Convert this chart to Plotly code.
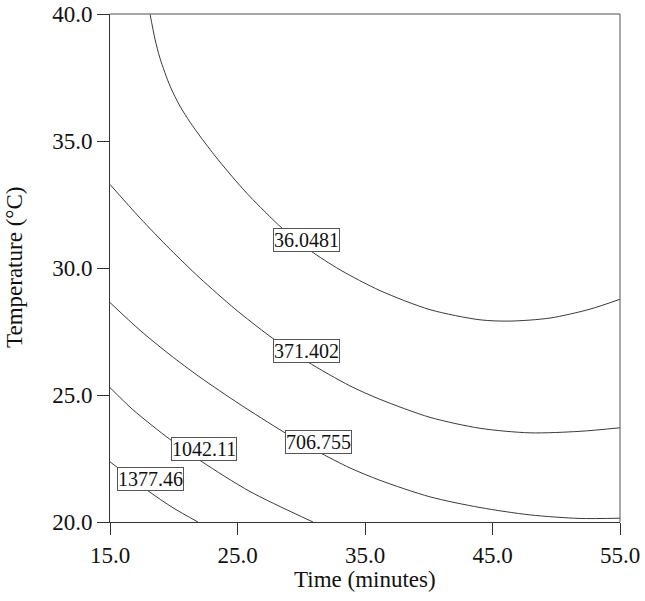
import plotly.graph_objects as go

# Contour levels and their traced paths (Time in minutes, Temperature in °C)
levels = ["36.0481", "371.402", "706.755", "1042.11", "1377.46"]

time_36 = [18.14, 18.53, 18.92, 19.71, 20.49, 21.28, 22.06, 22.84, 23.63, 24.41, 25.20, 25.98,
           28.49, 30.69, 33.04, 36.18, 40.10, 44.02, 46.37, 49.51, 52.65, 55.0]
temp_36 = [40.0, 39.01, 38.26, 37.16, 36.37, 35.74, 35.19, 34.67, 34.17, 33.70, 33.24, 32.81,
           31.57, 30.69, 29.93, 29.11, 28.36, 27.96, 27.91, 28.03, 28.38, 28.77]

time_371 = [15.0, 17.35, 19.71, 22.06, 24.80, 27.55, 30.45, 33.82, 36.18, 40.10, 44.02, 47.94, 51.86, 55.0]
temp_371 = [33.29, 31.97, 30.74, 29.60, 28.39, 27.31, 26.32, 25.36, 24.83, 24.12, 23.69, 23.51, 23.57, 23.71]

time_706 = [15.0, 17.35, 19.71, 22.06, 25.20, 28.57, 31.24, 33.82, 36.18, 40.10, 44.02, 47.94, 51.86, 55.0]
temp_706 = [28.64, 27.55, 26.58, 25.70, 24.63, 23.56, 22.79, 22.13, 21.64, 20.99, 20.57, 20.28, 20.14, 20.15]

time_1042 = [15.0, 16.80, 19.71, 22.22, 25.98, 30.92]
temp_1042 = [25.29, 24.42, 23.25, 22.37, 21.20, 20.0]

time_1377 = [15.0, 17.98, 19.94, 21.90]
temp_1377 = [22.37, 21.23, 20.56, 20.0]

# Label anchor positions (Time, Temperature)
label_time = [30.45, 30.45, 31.39, 22.37, 18.14]
label_temp = [31.10, 26.75, 23.16, 22.88, 21.70]

x_ticks = [15, 25, 35, 45, 55]
y_ticks = [20, 25, 30, 35, 40]

paths = [(time_36, temp_36), (time_371, temp_371), (time_706, temp_706),
         (time_1042, temp_1042), (time_1377, temp_1377)]

FONT = "Liberation Serif, Times New Roman, serif"
LINE = "#3a3a3a"

fig = go.Figure()
for name, (tx, ty) in zip(levels, paths):
    fig.add_trace(go.Scatter(x=tx, y=ty, mode="lines", name=name,
                             line=dict(color=LINE, width=1, shape="spline", smoothing=0.8),
                             hoverinfo="skip", showlegend=False))

for name, lx, ly in zip(levels, label_time, label_temp):
    fig.add_annotation(x=lx, y=ly, xref="x", yref="y", text=name, showarrow=False,
                       font=dict(family=FONT, size=20, color="#111111"),
                       bgcolor="white", bordercolor="#555555", borderwidth=1, borderpad=0)

# axis titles
fig.add_annotation(x=0.5, y=0, xref="paper", yref="paper", text="Time (minutes)",
                   showarrow=False, xanchor="center", yanchor="middle", yshift=-57,
                   font=dict(family=FONT, size=23, color="#111111"))
fig.add_annotation(x=0, y=0.5, xref="paper", yref="paper", text="Temperature (°C)",
                   showarrow=False, xanchor="center", yanchor="middle", xshift=-96,
                   textangle=-90, font=dict(family=FONT, size=23, color="#111111"))

fig.update_layout(
    width=645, height=601,
    margin=dict(l=110, r=25, t=14, b=79),
    paper_bgcolor="white", plot_bgcolor="white",
    font=dict(family=FONT, size=23, color="#111111"),
    showlegend=False,
    xaxis=dict(range=[15, 55], tickvals=x_ticks, tickformat=".1f",
               ticks="outside", ticklen=12, tickcolor="#333333", tickwidth=1,
               showline=True, linecolor="#333333", linewidth=1, mirror=False,
               showgrid=False, zeroline=False, automargin=False),
    yaxis=dict(range=[20, 40], tickvals=y_ticks, tickformat=".1f",
               ticks="outside", ticklen=12, tickcolor="#333333", tickwidth=1,
               showline=True, linecolor="#333333", linewidth=1, mirror=False,
               showgrid=False, zeroline=False, automargin=False),
)

# top and right frame lines
fig.add_shape(type="line", xref="paper", yref="paper", x0=0, x1=1, y0=1, y1=1,
              line=dict(color="#888888", width=1.5))
fig.add_shape(type="line", xref="paper", yref="paper", x0=1, x1=1, y0=0, y1=1,
              line=dict(color="#555555", width=1))

fig.write_html("out.html", config={"displayModeBar": False},
               post_script="document.body.style.margin='0';document.body.style.overflow='hidden';")
